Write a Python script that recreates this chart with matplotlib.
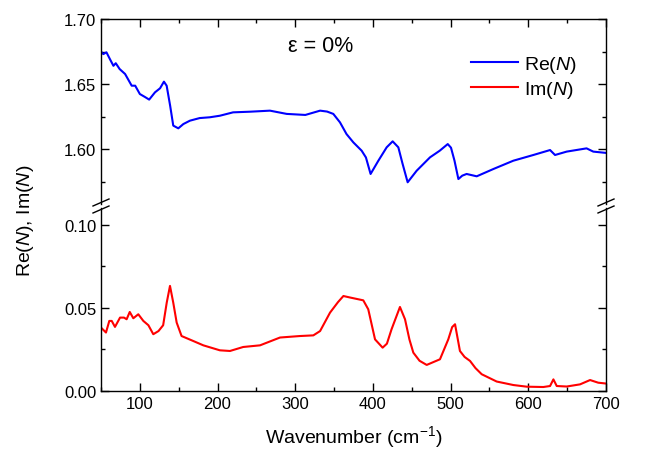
import matplotlib
matplotlib.use('Agg')
import matplotlib.pyplot as plt
from matplotlib.ticker import MultipleLocator

plt.rcParams['font.family'] = ['Liberation Sans', 'DejaVu Sans']
plt.rcParams['mathtext.fontset'] = 'custom'
plt.rcParams['mathtext.rm'] = 'Liberation Sans'
plt.rcParams['mathtext.it'] = 'Liberation Sans:italic'

# Re(N)
re_wn = [50, 53, 57, 61.6, 66, 69, 74, 81, 89.5, 94, 100, 106.6, 112, 119.5, 126, 131,
         134.5, 139, 143, 149.5, 156, 164.5, 177, 190, 203, 220, 242, 267.5, 289, 313,
         332, 341, 349, 357.6, 366, 374.8, 385.5, 391, 397, 407, 417.7, 425.4, 432.7,
         438, 444.7, 456.3, 473.5, 486, 496.3, 500.5, 505, 510, 515, 520.6, 533.6, 555,
         580.7, 606.5, 628, 634.4, 649.4, 675, 683.6, 700]
re_n = [1.6749, 1.673, 1.6744, 1.669, 1.664, 1.666, 1.6615, 1.6577, 1.6487, 1.6487,
        1.6423, 1.640, 1.638, 1.6436, 1.6467, 1.6518, 1.6487, 1.6333, 1.618, 1.6159,
        1.6192, 1.6218, 1.6238, 1.6244, 1.6256, 1.6282, 1.6287, 1.6295, 1.627, 1.6262,
        1.6295, 1.6288, 1.627, 1.6205, 1.6115, 1.6051, 1.5987, 1.5935, 1.5808, 1.591,
        1.6013, 1.6059, 1.6013, 1.589, 1.5744, 1.5833, 1.5936, 1.5987, 1.6038, 1.601,
        1.591, 1.5769, 1.5795, 1.5808, 1.579, 1.5846, 1.591, 1.5954, 1.5992, 1.5954,
        1.598, 1.6005, 1.598, 1.597]

# Im(N)
im_wn = [50, 56.4, 60.7, 63.8, 68, 74.5, 79.6, 83, 87, 91.6, 98, 104.5, 111, 117.3, 124,
         130, 134.6, 138.8, 143, 147.4, 153.7, 168.8, 181.7, 203, 216, 233, 254.7, 280.4,
         306, 323.3, 332, 344.8, 355, 362, 370.5, 387.6, 394, 402.7, 412.5, 418, 424,
         434.8, 441.3, 447, 452, 460, 469.2, 486.3, 497, 502, 505.7, 512, 518, 525, 532,
         540, 559.3, 580.7, 598, 619.3, 628, 632.3, 636.6, 649.4, 666.6, 679.5, 690, 700]
im_n = [0.0382, 0.0352, 0.0422, 0.0422, 0.0386, 0.0442, 0.0442, 0.0432, 0.0476, 0.0438,
        0.0462, 0.0422, 0.0396, 0.0342, 0.0361, 0.0396, 0.0532, 0.0633, 0.0532, 0.0412,
        0.0331, 0.0301, 0.0275, 0.0245, 0.0241, 0.0265, 0.0275, 0.0322, 0.0331, 0.0335,
        0.0361, 0.0472, 0.0535, 0.0572, 0.0563, 0.0546, 0.0492, 0.0311, 0.0261, 0.0285,
        0.0372, 0.0506, 0.0432, 0.031, 0.0231, 0.0182, 0.0157, 0.0191, 0.0311, 0.0385,
        0.0402, 0.0241, 0.0205, 0.0181, 0.0138, 0.0101, 0.0057, 0.0036, 0.0026, 0.0024,
        0.003, 0.007, 0.003, 0.0027, 0.004, 0.0066, 0.005, 0.0045]

fig = plt.figure(figsize=(6.45, 4.60), dpi=100)
W, H = 645.0, 460.0
x0, x1 = 101, 606
ax_top = fig.add_axes([x0 / W, 1 - 205 / H, (x1 - x0) / W, 185 / H])
ax_bot = fig.add_axes([x0 / W, 1 - 392 / H, (x1 - x0) / W, 183 / H])

ax_top.plot(re_wn, re_n, color='#0000ff', lw=1.5, label='Re($\\mathit{N}$)')
ax_top.plot([], [], color='#ff0000', lw=1.5, label='Im($\\mathit{N}$)')
ax_bot.plot(im_wn, im_n, color='#ff0000', lw=1.5)

for ax in (ax_top, ax_bot):
    ax.set_xlim(50, 700)
    ax.xaxis.set_major_locator(MultipleLocator(100))
    ax.xaxis.set_minor_locator(MultipleLocator(50))
    ax.tick_params(which='both', direction='in', right=True, labelsize=12, width=1)
    ax.tick_params(which='major', length=6)
    ax.tick_params(which='minor', length=3)
    for s in ax.spines.values():
        s.set_linewidth(1)

ax_top.set_ylim(1.5577, 1.70)
ax_top.yaxis.set_major_locator(MultipleLocator(0.05))
ax_top.yaxis.set_minor_locator(MultipleLocator(0.025))
ax_top.yaxis.set_major_formatter('{x:.2f}')
ax_top.spines['bottom'].set_visible(False)
ax_top.tick_params(which='both', bottom=False, labelbottom=False, top=True)

ax_bot.set_ylim(0, 0.1102)
ax_bot.yaxis.set_major_locator(MultipleLocator(0.05))
ax_bot.yaxis.set_minor_locator(MultipleLocator(0.025))
ax_bot.yaxis.set_major_formatter('{x:.2f}')
ax_bot.spines['top'].set_visible(False)
ax_bot.tick_params(which='both', top=False)

# break marks on both y spines
for xp in (x0, x1):
    for yp in (203.5, 210.5):
        fig.add_artist(plt.Line2D([(xp - 8) / W, (xp + 8) / W],
                                  [1 - (yp + 3.5) / H, 1 - (yp - 3.5) / H],
                                  color='black', lw=1))

ax_bot.set_xlabel('Wavenumber (cm$\\mathregular{^{-1}}$)', fontsize=14, labelpad=9)
fig.text(25 / W, 1 - 221 / H, 'Re($\\mathit{N}$), Im($\\mathit{N}$)', fontsize=14,
         rotation=90, ha='center', va='center')
fig.text(321 / W, 1 - 47 / H, 'ε = 0%', fontsize=15.5, ha='center', va='center')

ax_top.legend(loc='upper left', bbox_to_anchor=(471 / W, 1 - 55 / H),
              bbox_transform=fig.transFigure, frameon=False, fontsize=14,
              borderaxespad=0, borderpad=0, handlelength=2.4, handletextpad=0.3,
              labelspacing=0.2)

fig.savefig('out.png', dpi=100)
